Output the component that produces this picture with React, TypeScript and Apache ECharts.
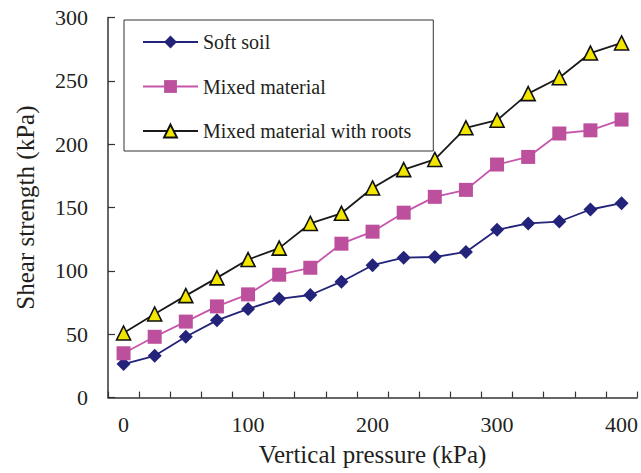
import React, { useEffect, useRef } from "react";
import * as echarts from "echarts";

const categories = ["0", "25", "50", "75", "100", "125", "150", "175", "200", "225", "250", "275", "300", "325", "350", "375", "400"];
const softSoil = [26.5, 33, 48, 61, 70, 78, 81, 91.5, 104.5, 110.5, 111, 115, 132.5, 137.5, 139, 148.5, 153.5];
const mixedMaterial = [35, 48, 60, 72, 81.5, 97, 102.5, 121.5, 131, 146, 158.5, 164, 184, 190, 208.5, 211, 219.5];
const mixedWithRoots = [51, 66, 80.5, 94.5, 109, 118, 137.5, 145.5, 165.5, 180, 188, 213, 219, 240, 252.5, 272, 280];
const seriesNames = ["Soft soil", "Mixed material", "Mixed material with roots"];
const xTitle = "Vertical pressure (kPa)";
const yTitle = "Shear strength (kPa)";

const FONT = "'Liberation Serif', 'Times New Roman', serif";
const TEXT = "#231f20";
const AXIS = "#333333";

export default function App() {
  const ref = useRef<HTMLDivElement>(null);
  useEffect(() => {
    if (!ref.current) return;
    const chart = echarts.init(ref.current, null, { renderer: "svg" });
    chart.setOption({
      animation: false,
      backgroundColor: "#ffffff",
      textStyle: { fontFamily: FONT },
      grid: { left: 108, right: 2, top: 17.6, bottom: 75.4, containLabel: false },
      legend: {
        orient: "vertical",
        left: 124,
        top: 20,
        padding: [12, 22, 10, 18],
        itemWidth: 55,
        itemHeight: 16,
        itemGap: 24.5,
        borderColor: "#333333",
        borderWidth: 1,
        backgroundColor: "#ffffff",
        textStyle: { fontFamily: FONT, fontSize: 20, color: TEXT },
        data: seriesNames,
      },
      xAxis: {
        type: "category",
        data: categories,
        boundaryGap: true,
        name: xTitle,
        nameLocation: "middle",
        nameGap: 44,
        nameTextStyle: { fontFamily: FONT, fontSize: 25, color: TEXT },
        axisLine: { show: true, lineStyle: { color: AXIS, width: 1.5 } },
        axisTick: { show: true, inside: true, length: 6, interval: 0, alignWithLabel: false, lineStyle: { color: AXIS, width: 1.2 } },
        axisLabel: { interval: 3, margin: 16, fontFamily: FONT, fontSize: 22, color: TEXT },
        splitLine: { show: false },
      },
      yAxis: {
        type: "value",
        min: 0,
        max: 300,
        interval: 50,
        name: yTitle,
        nameLocation: "middle",
        nameGap: 70,
        nameTextStyle: { fontFamily: FONT, fontSize: 25, color: TEXT },
        axisLine: { show: true, lineStyle: { color: AXIS, width: 1.5 } },
        axisTick: { show: true, inside: true, length: 7, lineStyle: { color: AXIS, width: 1.2 } },
        axisLabel: { margin: 20, fontFamily: FONT, fontSize: 22, color: TEXT },
        splitLine: { show: false },
      },
      series: [
        {
          name: seriesNames[0],
          type: "line",
          data: softSoil,
          symbol: "diamond",
          symbolSize: 14,
          lineStyle: { color: "#23237a", width: 1.8 },
          itemStyle: { color: "#23237a" },
          z: 3,
        },
        {
          name: seriesNames[1],
          type: "line",
          data: mixedMaterial,
          symbol: "rect",
          symbolSize: 14,
          lineStyle: { color: "#c656ab", width: 1.8 },
          itemStyle: { color: "#bd509c" },
          z: 4,
        },
        {
          name: seriesNames[2],
          type: "line",
          data: mixedWithRoots,
          symbol: "triangle",
          symbolSize: 14,
          lineStyle: { color: "#1a1a1a", width: 1.8 },
          itemStyle: { color: "#f2e600", borderColor: "#111111", borderWidth: 1.6 },
          z: 5,
        },
      ],
    });
    return () => chart.dispose();
  }, []);
  return <div ref={ref} style={{ width: 641, height: 473, position: "absolute", left: 0, top: 0 }} />;
}
